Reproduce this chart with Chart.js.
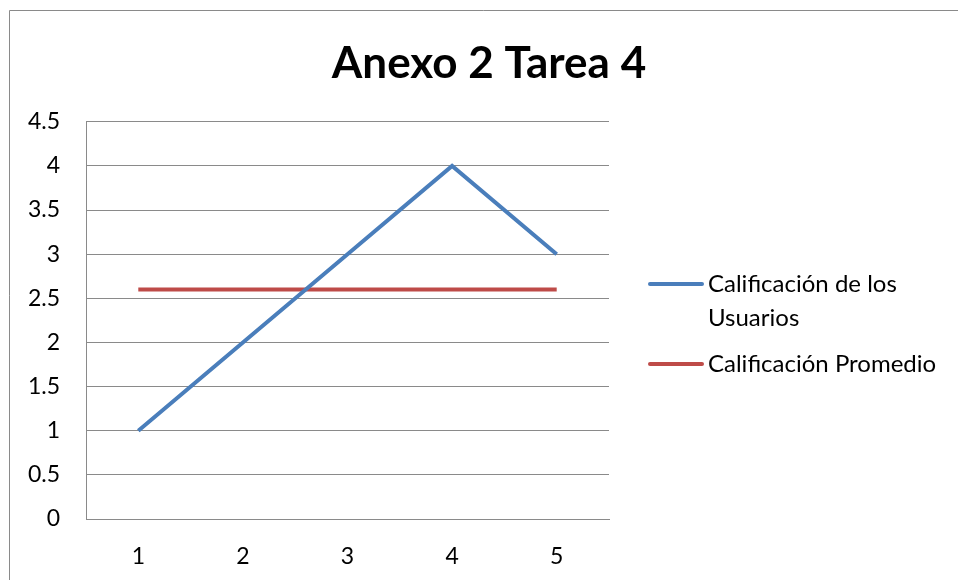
<!DOCTYPE html>
<html>
<head>
<meta charset="utf-8">
<script src="https://cdn.jsdelivr.net/npm/chart.js@4"></script>
<style>
  html, body { margin: 0; padding: 0; background: #fff; }
  #wrap { width: 958px; height: 580px; position: relative; }
</style>
</head>
<body>
<div id="wrap"><canvas id="chart1"></canvas></div>
<script>
const chartTitle = "Anexo 2 Tarea 4";
const categories = ["1", "2", "3", "4", "5"];
const seriesNames = ["Calificación de los Usuarios", "Calificación Promedio"];
const usuarios = [1, 2, 3, 4, 3];
const promedio = [2.6, 2.6, 2.6, 2.6, 2.6];
const seriesColors = ["#4a7ebb", "#be4b48"];

const fontName = "Lato, 'Open Sans', sans-serif";
const gridColor = "#8a8a8a";

// outer frame (top and left edges only are inside the picture)
const framePlugin = {
  id: "frame",
  beforeDraw(chart) {
    const ctx = chart.ctx;
    ctx.save();
    ctx.strokeStyle = "#8a8a8a";
    ctx.lineWidth = 1;
    ctx.beginPath();
    ctx.moveTo(9.5, chart.height);
    ctx.lineTo(9.5, 10.5);
    ctx.lineTo(chart.width, 10.5);
    ctx.stroke();
    ctx.restore();
  }
};

// legend drawn to the right of the plot, with wrapped labels
const sideLegend = {
  id: "sideLegend",
  afterDraw(chart) {
    const ctx = chart.ctx;
    const x0 = 650, lineLen = 56, textX = 708, maxW = 240;
    let y = 284;
    ctx.save();
    ctx.font = "24px " + fontName;
    ctx.textBaseline = "middle";
    ctx.textAlign = "left";
    chart.data.datasets.forEach(ds => {
      // wrap words
      const words = ds.label.split(" ");
      const lines = [];
      let cur = "";
      words.forEach(w => {
        const test = cur ? cur + " " + w : w;
        if (ctx.measureText(test).width > maxW && cur) {
          lines.push(cur);
          cur = w;
        } else {
          cur = test;
        }
      });
      lines.push(cur);

      ctx.strokeStyle = ds.borderColor;
      ctx.lineWidth = 4;
      ctx.lineCap = "round";
      ctx.beginPath();
      ctx.moveTo(x0, y);
      ctx.lineTo(x0 + lineLen - 4, y);
      ctx.stroke();

      ctx.fillStyle = "#000";
      lines.forEach((ln, i) => {
        ctx.fillText(ln, textX, y + i * 34);
      });
      y += lines.length * 34 + 12;
    });
    ctx.restore();
  }
};

const ctx = document.getElementById("chart1").getContext("2d");
new Chart(ctx, {
  type: "line",
  data: {
    labels: categories,
    datasets: [
      {
        label: seriesNames[0],
        data: usuarios,
        borderColor: seriesColors[0],
        backgroundColor: seriesColors[0],
        borderWidth: 4,
        pointRadius: 0,
        tension: 0,
        yAxisID: "y"
      },
      {
        label: seriesNames[1],
        data: promedio,
        borderColor: seriesColors[1],
        backgroundColor: seriesColors[1],
        borderWidth: 4,
        pointRadius: 0,
        tension: 0,
        yAxisID: "y"
      }
    ]
  },
  options: {
    responsive: true,
    maintainAspectRatio: false,
    animation: false,
    layout: { padding: { left: 20, right: 0, top: 10, bottom: 0 } },
    plugins: {
      legend: { display: false },
      tooltip: { enabled: false },
      title: {
        display: true,
        text: chartTitle,
        color: "#000",
        font: { family: fontName, size: 44, weight: "bold" },
        padding: { top: 27, bottom: 32 }
      }
    },
    scales: {
      x: {
        offset: true,
        grid: { display: false, drawTicks: false },
        border: { display: true, color: gridColor, width: 1 },
        ticks: { color: "#000", font: { family: fontName, size: 23 }, padding: 24 },
        afterFit: s => { s.height = 61; }
      },
      y: {
        min: 0,
        max: 4.5,
        ticks: {
          stepSize: 0.5,
          color: "#000",
          font: { family: fontName, size: 23 },
          padding: 26,
          callback: v => String(v)
        },
        grid: { color: gridColor, drawTicks: false },
        border: { display: true, color: gridColor, width: 1 },
        afterFit: s => { s.width = 66; }
      },
      side: {
        position: "right",
        display: true,
        grid: { display: false, drawTicks: false },
        border: { display: false },
        ticks: { display: false },
        afterFit: s => { s.width = 349; }
      }
    }
  },
  plugins: [framePlugin, sideLegend]
});
</script>
</body>
</html>
